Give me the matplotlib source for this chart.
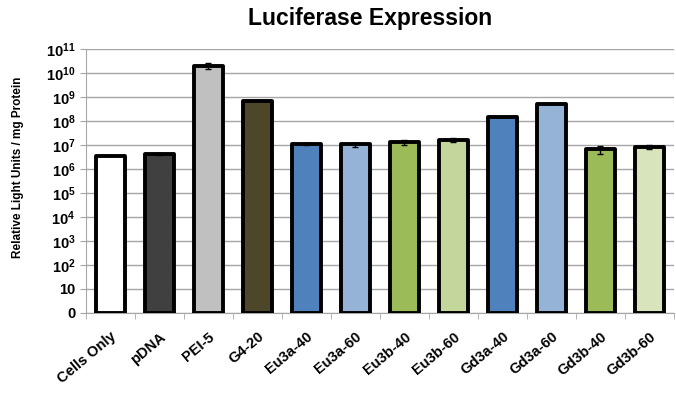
import numpy as np
import matplotlib
matplotlib.use('Agg')
from matplotlib import pyplot as plt
from matplotlib.ticker import FixedLocator, FuncFormatter, NullLocator

samples = ['Cells Only', 'pDNA', 'PEI-5', 'G4-20', 'Eu3a-40', 'Eu3a-60',
           'Eu3b-40', 'Eu3b-60', 'Gd3a-40', 'Gd3a-60', 'Gd3b-40', 'Gd3b-60']
rlu = [3.5e6, 4.2e6, 2.0e10, 7.0e8, 1.05e7, 1.05e7,
       1.3e7, 1.6e7, 1.4e8, 5.1e8, 6.8e6, 8.0e6]
rlu_err = [0, 3e5, 5e9, 4e7, 1e6, 2e6,
           3e6, 3e6, 0, 0, 2.5e6, 1.5e6]
colors = ['#ffffff', '#404040', '#c0c0c0', '#4d4628', '#4f81bd', '#95b3d7',
          '#9bbb59', '#c3d69b', '#4f81bd', '#95b3d7', '#9bbb59', '#d7e4bc']


def rlu_label(v, pos):
  n = int(round(np.log10(v)))
  if n == 0:
    return '0'
  if n == 1:
    return '10'
  return r'$\mathbf{10^{%d}}$' % n


if __name__ == '__main__':
  plt.rcParams['font.family'] = ['Liberation Sans', 'DejaVu Sans']
  plt.rcParams['mathtext.fontset'] = 'custom'
  plt.rcParams['mathtext.bf'] = 'Liberation Sans:bold'

  fig = plt.figure(figsize=(6.76, 3.95), dpi=100)
  ax = fig.add_axes([0.127, 0.208, 0.870, 0.668])

  x = np.arange(len(samples))
  ax.bar(x, rlu, width=0.6, bottom=1, color=colors, edgecolor='black',
         linewidth=2.8, joinstyle='round', zorder=3)
  ax.errorbar(x, rlu, yerr=rlu_err, fmt='none', ecolor='black',
              elinewidth=1.0, capsize=2.5, zorder=4)

  ax.set_yscale('log')
  ax.set_ylim(1, 1e11)
  ax.set_xlim(-0.5, len(samples) - 0.5)
  ax.yaxis.set_major_locator(FixedLocator([10.0**k for k in range(12)]))
  ax.yaxis.set_minor_locator(NullLocator())
  ax.yaxis.set_major_formatter(FuncFormatter(rlu_label))
  ax.grid(axis='y', color='#a6a6a6', linewidth=1.0, zorder=0)

  ax.set_xticks(x)
  ax.set_xticklabels(samples, rotation=40, ha='right', rotation_mode='anchor',
                     fontsize=10.5, fontweight='bold')
  ax.xaxis.set_minor_locator(FixedLocator(np.arange(-0.5, len(samples), 1)))
  ax.tick_params(axis='x', which='major', length=0, pad=12)
  ax.tick_params(axis='x', which='minor', length=4, color='#a6a6a6', direction='out')
  ax.tick_params(axis='y', length=4, color='#a6a6a6', labelsize=10.5)
  for lbl in ax.get_yticklabels():
    lbl.set_fontweight('bold')

  for side in ['top', 'right']:
    ax.spines[side].set_visible(False)
  for side in ['left', 'bottom']:
    ax.spines[side].set_color('#a6a6a6')

  ax.set_ylabel('Relative Light Units / mg Protein', fontsize=8.5,
                fontweight='bold')
  ax.yaxis.set_label_coords(-0.105, 0.55)
  fig.text(0.548, 0.954, 'Luciferase Expression', ha='center', va='center',
           fontsize=16.5, fontweight='bold')

  plt.savefig('out.png', dpi=100)
